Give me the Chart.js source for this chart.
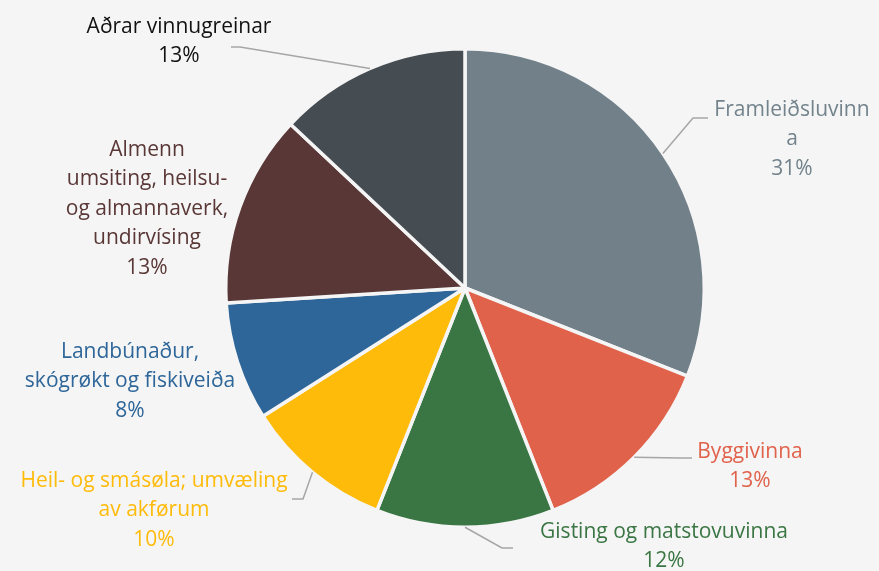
<!DOCTYPE html>
<html>
<head>
<meta charset="utf-8">
<script src="https://cdn.jsdelivr.net/npm/chart.js@4"></script>
<style>
  html, body { margin: 0; padding: 0; background: #f5f5f5; }
  #wrap { width: 879px; height: 571px; position: relative; }
</style>
</head>
<body>
<div id="wrap"><canvas id="c" width="879" height="571"></canvas></div>
<script>
// Vinnugreinar – partur í prosent
const categories = [
  'Framleiðsluvinna',
  'Byggivinna',
  'Gisting og matstovuvinna',
  'Heil- og smásøla; umvæling av akførum',
  'Landbúnaður, skógrøkt og fiskiveiða',
  'Almenn umsiting, heilsu- og almannaverk, undirvísing',
  'Aðrar vinnugreinar'
];
const shares = [31, 13, 12, 10, 8, 13, 13];
const wrappedNames = [
  ['Framleiðsluvinn', 'a'],
  ['Byggivinna'],
  ['Gisting og matstovuvinna'],
  ['Heil- og smásøla; umvæling', 'av akførum'],
  ['Landbúnaður,', 'skógrøkt og fiskiveiða'],
  ['Almenn', 'umsiting, heilsu-', 'og almannaverk,', 'undirvísing'],
  ['Aðrar vinnugreinar']
];

const sliceColors = ['#718089', '#e0624b', '#3a7643', '#ffbb0a', '#2e6699', '#5a3737', '#454c52'];
const textColors  = ['#72838c', '#e0624b', '#3a7643', '#ffbb0a', '#2e6699', '#5a3737', '#111111'];

// Placement of each label block (centre x, first line y) and its leader elbow
const labelPlacement = [
  { x: 792, y: 110, elbow: [[693, 118], [708, 118]] },
  { x: 750, y: 452, elbow: [[680, 458], [692, 458]] },
  { x: 664, y: 532, elbow: [[502, 548], [513, 548]] },
  { x: 154, y: 481, elbow: [[303, 499], [292, 499]] },
  { x: 130, y: 352, elbow: null },
  { x: 147, y: 150, elbow: null },
  { x: 179, y: 27,  elbow: [[240, 47], [231, 47]] }
];
const lineStep = 29.5;

const outsideLabels = {
  id: 'outsideLabels',
  afterDatasetsDraw(chart) {
    const ctx = chart.ctx;
    const meta = chart.getDatasetMeta(0);
    const total = shares.reduce((a, b) => a + b, 0);
    ctx.save();
    meta.data.forEach((arc, i) => {
      const p = labelPlacement[i];
      if (p.elbow) {
        const mid = (arc.startAngle + arc.endAngle) / 2;
        const sx = arc.x + Math.cos(mid) * arc.outerRadius;
        const sy = arc.y + Math.sin(mid) * arc.outerRadius;
        ctx.beginPath();
        ctx.moveTo(sx, sy);
        p.elbow.forEach(pt => ctx.lineTo(pt[0], pt[1]));
        ctx.strokeStyle = '#a6a6a6';
        ctx.lineWidth = 1.5;
        ctx.stroke();
      }
      const lines = wrappedNames[i].concat([Math.round(shares[i] / total * 100) + '%']);
      ctx.fillStyle = textColors[i];
      ctx.font = '21px "Open Sans", sans-serif';
      ctx.textAlign = 'center';
      ctx.textBaseline = 'middle';
      lines.forEach((t, k) => ctx.fillText(t, p.x, p.y + k * lineStep));
    });
    ctx.restore();
  }
};

new Chart(document.getElementById('c'), {
  type: 'pie',
  data: {
    labels: categories,
    datasets: [{
      data: shares,
      backgroundColor: sliceColors,
      borderColor: '#f5f5f5',
      borderWidth: 3.5
    }]
  },
  options: {
    responsive: false,
    animation: false,
    layout: { padding: { top: 47, bottom: 42, left: 200, right: 149 } },
    plugins: {
      legend: { display: false },
      tooltip: { enabled: false }
    }
  },
  plugins: [outsideLabels]
});
</script>
</body>
</html>
